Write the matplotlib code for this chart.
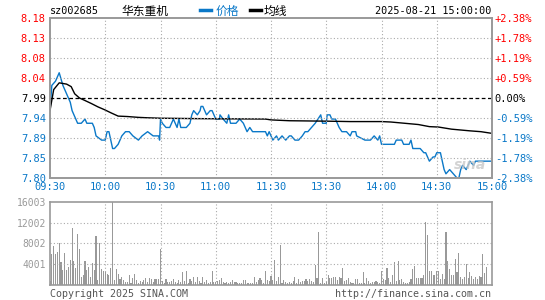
import matplotlib
matplotlib.use("Agg")
import matplotlib.pyplot as plt
from matplotlib.lines import Line2D

# 分时价格 (分钟序号, 价格)
price_min = [0, 1, 3, 4, 5, 7, 9, 11, 12, 15, 17, 19, 20, 23, 24, 25, 28, 30, 31, 32,
             34, 35, 37, 39, 41, 43, 45, 48, 50, 53, 56, 59, 59.5, 60, 61, 63, 65, 67, 69, 70,
             71, 74, 76, 77, 78, 80, 81.5, 82, 83, 85, 87, 88, 90, 92, 92.3, 94, 96, 97, 98, 99.5,
             101, 103, 105, 107, 108.5, 110, 112, 117, 118, 119, 121, 123, 124, 126, 128, 130, 131, 133, 135, 137,
             138.5, 140, 142, 144, 145.5, 147, 148, 150, 150.5, 152, 153, 155, 156, 157, 158.5, 161, 163, 164, 166, 166.5,
             171, 173, 174, 176, 178, 179, 180, 183, 187, 188, 191, 192, 195, 196, 197, 199, 201, 203, 204, 205,
             206, 208, 209, 210, 212, 213, 214, 215, 217, 219, 221, 222, 223, 224, 226, 227, 228, 230, 231, 240]
price = [7.96, 8.02, 8.03, 8.04, 8.05, 8.02, 8.00, 7.98, 7.96, 7.93, 7.93, 7.94, 7.93, 7.93, 7.92, 7.90, 7.89, 7.89, 7.91, 7.91,
         7.87, 7.87, 7.88, 7.90, 7.91, 7.91, 7.90, 7.89, 7.90, 7.91, 7.90, 7.90, 7.89, 7.94, 7.93, 7.92, 7.92, 7.94, 7.92, 7.94,
         7.92, 7.92, 7.93, 7.95, 7.96, 7.95, 7.96, 7.97, 7.97, 7.95, 7.96, 7.96, 7.94, 7.94, 7.95, 7.94, 7.93, 7.95, 7.93, 7.93,
         7.93, 7.94, 7.93, 7.91, 7.92, 7.91, 7.91, 7.91, 7.90, 7.91, 7.89, 7.90, 7.89, 7.90, 7.89, 7.90, 7.90, 7.89, 7.89, 7.90,
         7.91, 7.91, 7.92, 7.93, 7.94, 7.95, 7.93, 7.93, 7.95, 7.95, 7.94, 7.94, 7.93, 7.92, 7.91, 7.91, 7.90, 7.91, 7.91, 7.90,
         7.89, 7.89, 7.89, 7.90, 7.89, 7.90, 7.88, 7.88, 7.88, 7.89, 7.89, 7.88, 7.88, 7.89, 7.87, 7.87, 7.87, 7.86, 7.86, 7.85,
         7.84, 7.85, 7.85, 7.86, 7.86, 7.84, 7.82, 7.81, 7.82, 7.81, 7.80, 7.80, 7.82, 7.83, 7.82, 7.83, 7.84, 7.83, 7.84, 7.84]

# 均价线
avg_min = [0, 2, 5, 9, 11.5, 13.4, 16, 19, 22.4, 26, 29.7, 33, 37, 42, 48, 53, 60, 80, 117, 120,
           130, 150, 163, 180, 185, 195, 200, 206, 211, 218, 228, 234, 240]
avg = [7.96, 8.01, 8.026, 8.023, 8.017, 8.00, 7.99, 7.984, 7.977, 7.969, 7.962, 7.955, 7.947, 7.946, 7.944, 7.943,
       7.942, 7.941, 7.940, 7.938, 7.936, 7.935, 7.934, 7.934, 7.933, 7.929, 7.927, 7.922, 7.921, 7.916, 7.912, 7.91, 7.906]

# 每分钟成交量
volume = [770, 5950, 7490, 5950, 6340, 8000, 4420, 2880, 6150, 2820, 3390, 4800, 10940, 4600, 3260, 9790, 6910, 1470, 1860, 4600,
          2880, 3390, 1600, 4220, 2880, 9400, 960, 8000, 3070, 2690, 2560, 2110, 1980, 3260, 16003, 960, 3070, 2110, 1150, 1470,
          960, 640, 500, 1920, 320, 1280, 2110, 960, 320, 800, 640, 960, 1280, 640, 1280, 1150, 640, 1150, 1150, 1150,
          6910, 830, 320, 1150, 640, 640, 700, 1150, 640, 450, 960, 500, 2500, 830, 2690, 320, 1150, 830, 1470, 640,
          1470, 830, 450, 1470, 640, 960, 450, 600, 2690, 640, 510, 830, 960, 1410, 640, 450, 640, 450, 640, 960,
          500, 640, 450, 450, 450, 960, 960, 450, 450, 450, 450, 1470, 500, 960, 1340, 960, 450, 2690, 960, 700,
          1730, 960, 4800, 830, 1600, 7680, 450, 960, 580, 450, 640, 450, 770, 1470, 450, 1090, 640, 770, 770, 1090,
          700, 1090, 830, 640, 3900, 1280, 10180, 450, 1280, 450, 600, 1860, 1280, 1280, 1600, 1470, 960, 1600, 1410, 3260,
          830, 960, 1280, 600, 450, 450, 1090, 1090, 450, 450, 2500, 450, 1340, 830, 450, 580, 600, 770, 640, 450,
          2690, 1090, 960, 3260, 1340, 640, 1860, 4420, 700, 4600, 960, 1220, 640, 450, 320, 640, 1090, 3070, 3650, 1340,
          1340, 1340, 1340, 1860, 12030, 9600, 2690, 2690, 1920, 1920, 2690, 2690, 1090, 2110, 1090, 10180, 4600, 3000, 1860, 1860,
          5060, 2560, 6200, 1470, 1090, 1470, 4030, 1340, 2500, 1730, 1090, 1600, 1200, 1730, 1600, 5950, 2300, 3460, 0, 0, 0]

prev_close = 7.99
price_ticks = [7.80, 7.8475, 7.895, 7.9425, 7.99, 8.0375, 8.085, 8.1325, 8.18]
price_labels = ["7.80", "7.85", "7.89", "7.94", "7.99", "8.04", "8.08", "8.13", "8.18"]
pct_labels = ["-2.38%", "-1.78%", "-1.19%", "-0.59%", "0.00%", "+0.59%", "+1.19%", "+1.78%", "+2.38%"]
time_ticks = [0, 30, 60, 90, 120, 150, 180, 210, 240]
time_labels = ["09:30", "10:00", "10:30", "11:00", "11:30", "13:30", "14:00", "14:30", "15:00"]
vol_ticks = [4001, 8002, 12002, 16003]

BLUE = "#0a78c8"
RED = "#ff0000"
GRID = "#aaaaaa"
mono = "DejaVu Sans Mono"

fig = plt.figure(figsize=(5.45, 3.0), dpi=100)
ax = fig.add_axes([50/545, 1-178/300, 442/545, 160/300])
axv = fig.add_axes([50/545, 1-285/300, 442/545, 83.3/300])

# 价格图
ax.plot(price_min, price, color=BLUE, lw=1.0)
ax.plot(avg_min, avg, color="black", lw=1.0)
ax.set_xlim(0, 240)
ax.set_ylim(price_ticks[0], price_ticks[-1])
for t in price_ticks[1:-1]:
    if abs(t - prev_close) < 1e-6:
        ax.axhline(t, color="black", lw=0.9, ls=(0, (3, 2)))
    else:
        ax.axhline(t, color=GRID, lw=0.8, ls=(0, (1, 2)))
for t in time_ticks[1:-1]:
    ax.axvline(t, color=GRID, lw=0.8, ls=(0, (1, 2)))
ax.set_yticks(price_ticks)
ax.set_yticklabels(price_labels, fontfamily=mono, fontsize=7.5)
for lab, t in zip(ax.get_yticklabels(), price_ticks):
    lab.set_color(RED if t > prev_close + 1e-6 else (BLUE if t < prev_close - 1e-6 else "black"))
ax.set_xticks(time_ticks)
ax.set_xticklabels(time_labels, fontfamily=mono, fontsize=7.5, color=BLUE)
ax.tick_params(length=0, pad=3)

ax2 = ax.twinx()
ax2.set_ylim(ax.get_ylim())
ax2.set_yticks(price_ticks)
ax2.set_yticklabels(pct_labels, fontfamily=mono, fontsize=7.5)
for lab, t in zip(ax2.get_yticklabels(), price_ticks):
    lab.set_color(RED if t > prev_close + 1e-6 else (BLUE if t < prev_close - 1e-6 else "black"))
ax2.tick_params(length=0, pad=2)

for a in (ax, ax2, axv):
    for s in a.spines.values():
        s.set_color("#999999")
        s.set_linewidth(1.2)

# 成交量图
axv.bar(range(len(volume)), volume, width=0.6, color="#999999")
axv.set_xlim(0, 240)
axv.set_ylim(0, vol_ticks[-1])
for t in vol_ticks[:-1]:
    axv.axhline(t, color=GRID, lw=0.8, ls=(0, (1, 2)))
for t in time_ticks[1:-1]:
    axv.axvline(t, color=GRID, lw=0.8, ls=(0, (1, 2)), zorder=0)
axv.set_yticks(vol_ticks)
axv.set_yticklabels([str(v) for v in vol_ticks], fontfamily=mono, fontsize=7, color="#999999")
axv.set_xticks([])
axv.tick_params(length=0, pad=3)

# 标题栏
ty = 1 - 11/300
fig.text(50/545, ty, "sz002685", fontfamily=mono, fontsize=7.3, va="center", ha="left")
fig.text(121/545, ty, "华东重机", fontfamily=["Noto Sans CJK SC", "DejaVu Sans"], fontsize=8.5, va="center", ha="left")
fig.add_artist(Line2D([200/545, 211/545], [1-10/300, 1-10/300], color=BLUE, lw=2.5, transform=fig.transFigure))
fig.text(216/545, ty, "价格", fontfamily=["Noto Sans CJK SC", "DejaVu Sans"], fontsize=8.5, va="center", color=BLUE)
fig.add_artist(Line2D([250/545, 261/545], [1-10/300, 1-10/300], color="black", lw=2.5, transform=fig.transFigure))
fig.text(264/545, ty, "均线", fontfamily=["Noto Sans CJK SC", "DejaVu Sans"], fontsize=8.5, va="center")
fig.text(491/545, ty, "2025-08-21 15:00:00", fontfamily=mono, fontsize=7.3, va="center", ha="right")

# 水印
ax.text(228, 7.832, "sina", fontsize=10, fontweight="bold", fontstyle="italic", color="#c8c8c8", alpha=0.8, ha="center", va="center")

# 底部文字
by = 1 - 294/300
fig.text(50/545, by, "Copyright 2025 SINA.COM", fontfamily=mono, fontsize=7.2, color="#555555", va="center")
fig.text(491/545, by, "http://finance.sina.com.cn", fontfamily=mono, fontsize=7.2, color="#555555", va="center", ha="right")

fig.savefig("out.png", dpi=100)
